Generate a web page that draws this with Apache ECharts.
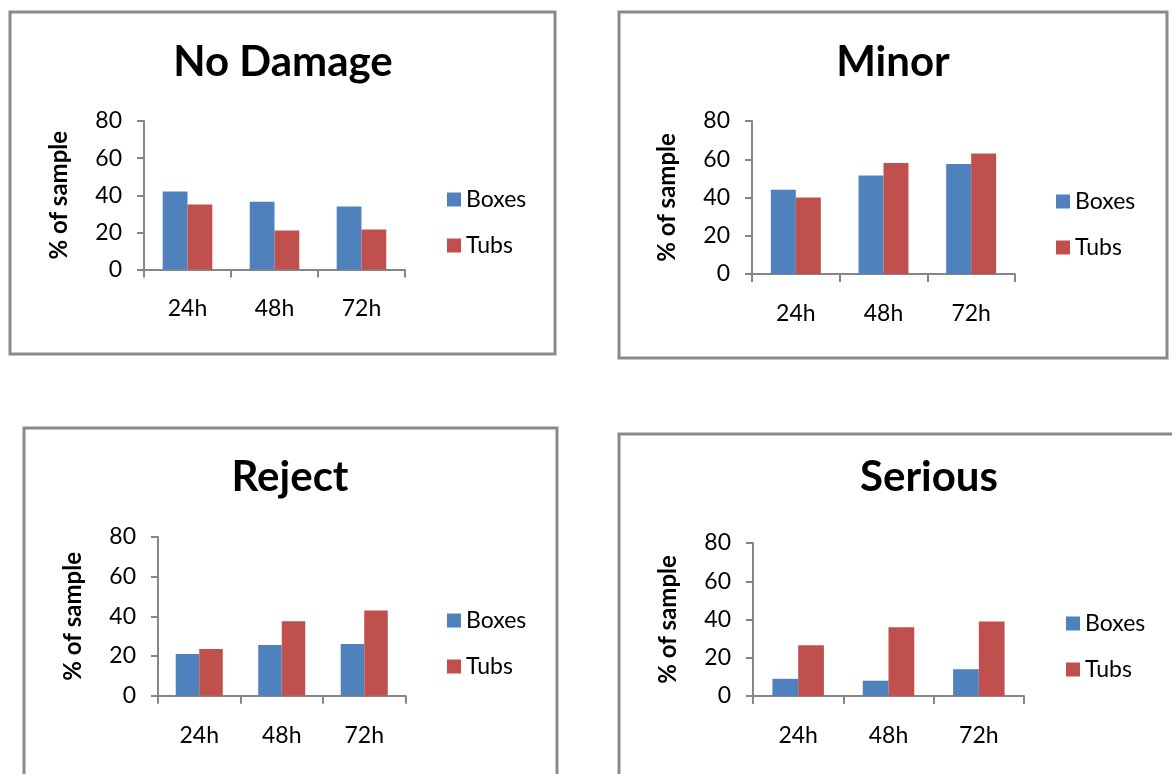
<!DOCTYPE html>
<html>
<head>
<meta charset="utf-8">
<script src="https://cdn.jsdelivr.net/npm/echarts@6/dist/echarts.min.js"></script>
<style>
html,body{margin:0;padding:0;background:#fff;}
#c{width:1172px;height:774px;}
</style>
</head>
<body>
<div id="c"></div>
<script>
var categories = ['24h', '48h', '72h'];
var seriesNames = ['Boxes', 'Tubs'];
var panelTitles = ['No Damage', 'Minor', 'Reject', 'Serious'];
var yTicks = { min: 0, max: 80, interval: 20 };
var yAxisName = '% of sample';

var noDamageBoxes = [42, 36.5, 34];
var noDamageTubs = [35, 21, 21.5];
var minorBoxes = [44, 51.5, 57.5];
var minorTubs = [40, 58, 63];
var rejectBoxes = [21, 25.5, 26];
var rejectTubs = [23.5, 37.5, 43];
var seriousBoxes = [9, 8, 14];
var seriousTubs = [26.5, 36, 39];

var panelData = [
  [noDamageBoxes, noDamageTubs],
  [minorBoxes, minorTubs],
  [rejectBoxes, rejectTubs],
  [seriousBoxes, seriousTubs]
];

// layout (pixels)
var layout = [
  { grid: {left: 144, top: 121, width: 261, height: 148.5}, title: [283, 41], legend: [447, 188], border: [10, 12, 545, 342] },
  { grid: {left: 752, top: 121, width: 263, height: 153}, title: [893, 41], legend: [1056, 190], border: [619, 12, 548, 346] },
  { grid: {left: 158, top: 537, width: 247.5, height: 158.7}, title: [290, 456], legend: [447, 609], border: [24, 428, 533, 400] },
  { grid: {left: 753, top: 543, width: 271, height: 153}, title: [929, 456], legend: [1066, 612], border: [619, 434, 600, 400] }
];

var colors = ['#4F81BD', '#C0504D'];
var fontFamily = 'Lato, "Open Sans", sans-serif';
var axisColor = '#868686';

var option = {
  animation: false,
  color: colors,
  textStyle: { fontFamily: fontFamily },
  title: [], legend: [], grid: [], xAxis: [], yAxis: [], series: [],
  graphic: []
};

layout.forEach(function (L, i) {
  option.graphic.push({
    type: 'rect', silent: true, z: -10,
    shape: { x: L.border[0], y: L.border[1], width: L.border[2], height: L.border[3] },
    style: { fill: 'none', stroke: '#8a8a8a', lineWidth: 3 }
  });
  option.title.push({
    text: panelTitles[i], left: L.title[0], top: L.title[1], textAlign: 'center', padding: 0,
    textStyle: { fontFamily: fontFamily, fontSize: 42, fontWeight: 'bold', color: '#000' }
  });
  option.legend.push({
    orient: 'vertical', left: L.legend[0], top: L.legend[1], padding: 0,
    itemWidth: 14, itemHeight: 14, itemGap: 23, icon: 'rect',
    data: seriesNames,
    textStyle: { fontFamily: fontFamily, fontSize: 23, color: '#000', padding: [0, 0, 0, 0] },
    selectedMode: false
  });
  option.grid.push(Object.assign({ containLabel: false }, L.grid));
  option.xAxis.push({
    type: 'category', gridIndex: i, data: categories,
    axisLine: { lineStyle: { color: axisColor, width: 2 } },
    axisTick: { show: true, length: 8, lineStyle: { color: axisColor, width: 2 } },
    axisLabel: { color: '#000', fontSize: 23, margin: 28, fontFamily: fontFamily },
    splitLine: { show: false }
  });
  option.yAxis.push({
    type: 'value', gridIndex: i, min: yTicks.min, max: yTicks.max, interval: yTicks.interval,
    name: yAxisName, nameLocation: 'middle', nameGap: 73, nameRotate: 90,
    nameTextStyle: { fontFamily: fontFamily, fontSize: 24, fontWeight: 'bold', color: '#000' },
    axisLine: { show: true, lineStyle: { color: axisColor, width: 2 } },
    axisTick: { show: true, length: 7, lineStyle: { color: axisColor, width: 2 } },
    axisLabel: { color: '#000', fontSize: 23, margin: 22, fontFamily: fontFamily },
    splitLine: { show: false }
  });
  seriesNames.forEach(function (name, s) {
    option.series.push({
      type: 'bar', name: name, xAxisIndex: i, yAxisIndex: i,
      data: panelData[i][s], barGap: '0%', barCategoryGap: '43%',
      itemStyle: { color: colors[s] }
    });
  });
});

var chart = echarts.init(document.getElementById('c'), null, { renderer: 'canvas' });
chart.setOption(option);
</script>
</body>
</html>
